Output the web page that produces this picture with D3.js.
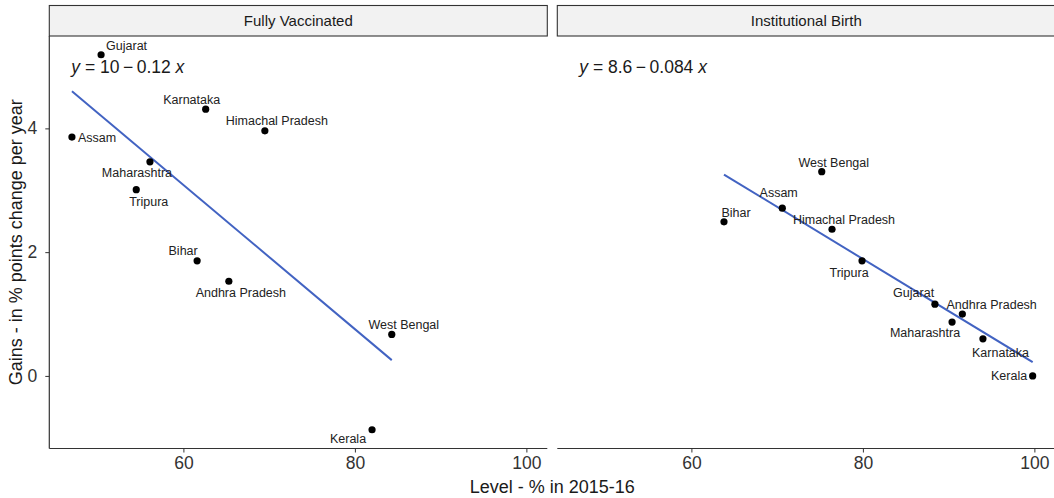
<!DOCTYPE html>
<html>
<head>
<meta charset="utf-8">
<script src="https://cdn.jsdelivr.net/npm/d3@7"></script>
<style>
  body { margin: 0; background: #fff; }
  svg { display: block; font-family: "Liberation Sans", Arial, sans-serif; }
</style>
</head>
<body>
<svg></svg>
<script>
// DATA
let states = ["Andhra Pradesh", "Assam", "Bihar", "Gujarat", "Himachal Pradesh",
              "Karnataka", "Kerala", "Maharashtra", "Tripura", "West Bengal"]
let panels = ["Fully Vaccinated", "Institutional Birth"]

// level in 2015-16 and yearly gain, per state
let fvLevel = [65.3, 47.0, 61.6, 50.4, 69.5, 62.6, 82.0, 56.1, 54.5, 84.3]
let fvGain  = [1.53, 3.86, 1.86, 5.19, 3.96, 4.31, -0.87, 3.46, 3.01, 0.67]
let ibLevel = [91.6, 70.6, 63.8, 88.4, 76.4, 94.0, 99.8, 90.4, 79.9, 75.2]
let ibGain  = [1.00, 2.71, 2.49, 1.16, 2.37, 0.60, 0.00, 0.87, 1.86, 3.30]

let xTicks = [60, 80, 100]
let yTicks = [0, 2, 4]

// label placement (pixels from the point), same order as states
let fvNudge = [[12, 15.7, "middle"], [6, 4.5, "start"], [-14, -5.7, "middle"], [5, -5, "start"],
               [12, -5.5, "middle"], [-14, -5, "middle"], [-24, 13.3, "middle"],
               [-13, 15, "middle"], [12.5, 16.5, "middle"], [12, -5.3, "middle"]]
let ibNudge = [[29.3, -5, "middle"], [-3.6, -11.6, "middle"], [12, -5, "middle"], [-21.3, -7.3, "middle"],
               [12, -5, "middle"], [17.6, 18.6, "middle"], [-5.5, 4.5, "end"],
               [-27, 14.7, "middle"], [-13, 15.7, "middle"], [12, -5, "middle"]]

let svgWidth = 1054, svgHeight = 498
let panelW = 498, panelGap = 10
let marginLeft = 49.3, stripTop = 5.5, panelTop = 36, panelBottom = 448.5

let svg = d3.select('svg')
    .attr('width', svgWidth)
    .attr('height', svgHeight)

let sets = [
    states.map((s, i) => ({state: s, x: fvLevel[i], y: fvGain[i], nudge: fvNudge[i]})),
    states.map((s, i) => ({state: s, x: ibLevel[i], y: ibGain[i], nudge: ibNudge[i]}))
]

// shared scales with 5% expansion, like facet_wrap
let allX = fvLevel.concat(ibLevel), allY = fvGain.concat(ibGain)
let xr = d3.extent(allX), yr = d3.extent(allY)
let xPad = (xr[1] - xr[0]) * 0.05, yPad = (yr[1] - yr[0]) * 0.05

let x = d3.scaleLinear().domain([xr[0] - xPad, xr[1] + xPad]).range([0, panelW])
let y = d3.scaleLinear().domain([yr[0] - yPad, yr[1] + yPad]).range([panelBottom, panelTop])

let fmt = d3.format(".2~g")

function fit(pts) {
    let mx = d3.mean(pts, d => d.x), my = d3.mean(pts, d => d.y)
    let sxy = d3.sum(pts, d => (d.x - mx) * (d.y - my))
    let sxx = d3.sum(pts, d => (d.x - mx) ** 2)
    let b = sxy / sxx
    return {a: my - b * mx, b: b}
}

sets.forEach((pts, p) => {
    let ox = marginLeft + p * (panelW + panelGap)
    let g = svg.append('g').attr('transform', `translate(${ox},0)`)

    // STRIP
    g.append('rect')
        .attr('x', 0).attr('y', stripTop)
        .attr('width', panelW).attr('height', panelTop - stripTop)
        .attr('fill', '#f2f2f2').attr('stroke', '#333').attr('stroke-width', 1.1)
    g.append('text')
        .attr('x', panelW / 2).attr('y', (stripTop + panelTop) / 2 + 5)
        .attr('text-anchor', 'middle')
        .attr('font-size', 15).attr('fill', '#1a1a1a')
        .text(panels[p])

    // AXES
    let xAxis = g.append('g')
        .attr('transform', `translate(0,${panelBottom})`)
        .call(d3.axisBottom(x).tickValues(xTicks).tickFormat(d3.format('d')).tickSize(4).tickPadding(4))
    xAxis.select('.domain').attr('d', `M0,0H${panelW}`).attr('stroke', '#333').attr('stroke-width', 1.2)
    xAxis.selectAll('.tick line').attr('stroke', '#333')
    xAxis.selectAll('.tick text').attr('font-size', 17.5).attr('fill', '#333')
        .attr('font-family', '"Liberation Sans", Arial, sans-serif')

    if (p === 0) {
        let yAxis = g.append('g')
            .call(d3.axisLeft(y).tickValues(yTicks).tickFormat(d3.format('d')).tickSize(4).tickPadding(8))
        yAxis.select('.domain').attr('d', `M0,${panelTop}V${panelBottom}`).attr('stroke', '#333').attr('stroke-width', 1.2)
        yAxis.selectAll('.tick line').attr('stroke', '#333')
        yAxis.selectAll('.tick text').attr('font-size', 17.5).attr('fill', '#333')
            .attr('font-family', '"Liberation Sans", Arial, sans-serif')
    }

    // REGRESSION LINE
    let f = fit(pts)
    let ex = d3.extent(pts, d => d.x)
    g.append('line')
        .attr('x1', x(ex[0])).attr('y1', y(f.a + f.b * ex[0]))
        .attr('x2', x(ex[1])).attr('y2', y(f.a + f.b * ex[1]))
        .attr('stroke', '#4263c2').attr('stroke-width', 2)

    // EQUATION
    let eq = g.append('text')
        .attr('x', 22).attr('y', 73)
        .attr('font-size', 17.5).attr('fill', '#1a1a1a')
    eq.append('tspan').attr('font-style', 'italic').text('y')
    eq.append('tspan').text(` = ${fmt(f.a)}\u2009\u2212\u2009${fmt(Math.abs(f.b))} `)
    eq.append('tspan').attr('font-style', 'italic').text('x')

    // POINTS
    g.selectAll('circle')
        .data(pts)
        .enter()
        .append('circle')
        .attr('cx', d => x(d.x))
        .attr('cy', d => y(d.y))
        .attr('r', 3.6)
        .attr('fill', '#000')

    // LABELS
    g.selectAll('text.lab')
        .data(pts)
        .enter()
        .append('text')
        .attr('class', 'lab')
        .attr('x', d => x(d.x) + d.nudge[0])
        .attr('y', d => y(d.y) + d.nudge[1])
        .attr('text-anchor', d => d.nudge[2])
        .attr('font-size', 12.5)
        .attr('fill', '#222')
        .text(d => d.state)
})

// AXIS TITLES
svg.append('text')
    .attr('x', marginLeft + panelW + panelGap / 2).attr('y', 493)
    .attr('text-anchor', 'middle')
    .attr('font-size', 18).attr('fill', '#1a1a1a')
    .text('Level - % in 2015-16')

svg.append('text')
    .attr('transform', `translate(22,${(panelTop + panelBottom) / 2}) rotate(-90)`)
    .attr('text-anchor', 'middle')
    .attr('font-size', 18).attr('fill', '#1a1a1a')
    .text('Gains - in % points change per year')
</script>
</body>
</html>
